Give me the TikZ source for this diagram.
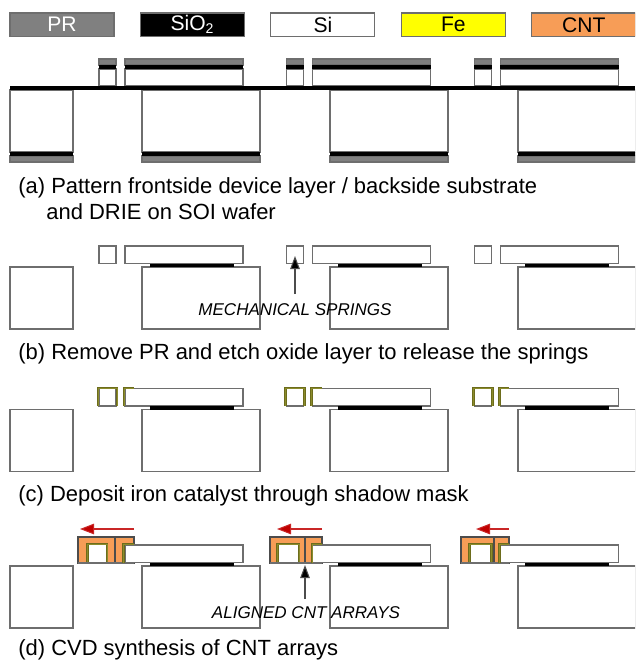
\documentclass[tikz,border=0pt]{standalone}
\usepackage{xcolor}
\usepackage{fontspec}
\setmainfont{Liberation Sans}
\usetikzlibrary{arrows.meta,positioning}
\definecolor{edge}{HTML}{6E6E6E}
\definecolor{resist}{HTML}{808080}
\definecolor{iron}{HTML}{FFFF00}
\definecolor{olive}{HTML}{6C6C1C}
\definecolor{pale}{HTML}{8C8C2C}
\definecolor{cnt}{HTML}{F79D57}
\definecolor{tube}{HTML}{C00000}

\begin{document}
\begin{tikzpicture}[
  x=0.02cm,
  y=-0.02cm,
  node distance=0.53cm,
  legend/.style={
    rectangle,
    draw=edge,
    line width=0.6pt,
    outer sep=0pt,
    align=center,
    font=\fontsize{12}{14}\selectfont,
    minimum width=2.08cm,
    minimum height=0.47cm,
    inner sep=0pt
  },
  si/.style={draw=edge, fill=white, line width=0.6pt},
  pr/.style={draw=edge, fill=resist, line width=0.6pt},
  oxide/.style={fill=black},
  fe/.style={draw=olive, double=pale, double distance=0.5pt, line width=0.6pt},
  tubes/.style={draw=black!70, fill=cnt, line width=0.6pt},
  caption/.style={anchor=west, inner sep=0pt, font=\fontsize{12.5}{14}\selectfont},
  note/.style={inner sep=0pt, font=\fontsize{9.7}{11}\selectfont\itshape},
  pointer/.style={-{Triangle[length=7.5pt,width=5.5pt,fill=black]}, draw=black!70, line width=0.6pt},
  pull/.style={-{Triangle[length=8pt,width=6pt,fill=tube]}, draw=tube!85, line width=0.6pt}
]
\useasboundingbox (0,0) rectangle (635,662);
\clip (0,0) rectangle (635,662);

% legend
\node[legend, fill=resist, text=white, anchor=north west] (prkey) at (10,13) {PR};
\node[legend, fill=black, text=white, right=of prkey] (oxkey) {SiO\textsubscript{2}};
\node[legend, fill=white, right=of oxkey] (sikey) {Si};
\node[legend, fill=iron, right=of sikey] (fekey) {Fe};
\node[legend, fill=cnt, right=of fekey] (cntkey) {CNT};

% step a
\foreach \x in {0,187.7,375.4} {
  \draw[si] (\x+99,69) rectangle (\x+116,86);
  \draw[pr] (\x+99,59) rectangle (\x+116,65);
  \fill[oxide] (\x+98.7,65) rectangle (\x+116.3,69.3);
  \draw[si] (\x+125,69) rectangle (\x+243,86);
  \draw[pr] (\x+125,59) rectangle (\x+243,65);
  \fill[oxide] (\x+124.7,65) rectangle (\x+243.3,69.3);
}
\foreach \x/\w in {10/63,142/118,330/118,518/118} {
  \draw[si] (\x,90) rectangle (\x+\w,152);
  \draw[pr] (\x,156) rectangle (\x+\w,162);
  \fill[oxide] (\x-0.3,151.7) rectangle (\x+\w+0.3,156);
}
\fill[oxide] (10,86) rectangle (635,90);
\node[caption] (capa) at (18,188) {(a) Pattern frontside device layer / backside substrate};
\node[caption] (capa2) at (46,212) {and DRIE on SOI wafer};

% steps b, c and d share the same wafer
\foreach \yy in {246,388.5,545} {
  \foreach \x/\w in {10/63,142/118,330/118,518/118} {
    \draw[si] (\x,\yy+21) rectangle (\x+\w,\yy+83);
  }
}

% cnt arrays of step d, under the beams
\foreach \l/\m/\r/\sl/\sr in {78/115/134/87.5/107,270/305/322/277.5/299,461/494/509/469.5/491} {
  \draw[tubes] (\l,537) rectangle (\r,563);
  \draw[draw=black!70, line width=0.6pt] (\m,537) -- (\m,563);
  \fill[white] (\sl,544) rectangle (\sr,563);
  \draw[fe] (\sl,563) -- (\sl,544) -- (\sr,544) -- (\sr,563);
}

\foreach \yy in {246,388.5,545} {
  \foreach \x in {0,187.7,375.4} {
    \draw[si] (\x+125,\yy) rectangle (\x+243,\yy+17.5);
    \fill[oxide] (\x+150,\yy+17.5) rectangle (\x+234,\yy+21);
  }
}
\foreach \x in {0,187.7,375.4} {
  \draw[si] (\x+99,246) rectangle (\x+116,263.5);
  \draw[si] (\x+99,388.5) rectangle (\x+116,406);
  \draw[fe] (\x+98,406) -- (\x+98,388) -- (\x+117,388) -- (\x+117,406);
  \draw[fe] (\x+134,388) -- (\x+124,388) -- (\x+124,406);
}
\draw[edge, line width=0.6pt] (78,563) -- (134,563) (270,563) -- (322,563) (461,563) -- (509,563);
\foreach \b/\e in {123.5/134,312/322,499.5/509} {
  \draw[fe] (\e,544) -- (\b,544) -- (\b,563);
}

\node[caption] (capb) at (18,354) {(b) Remove PR and etch oxide layer to release the springs};
\node[caption] (capc) at (18,496) {(c) Deposit iron catalyst through shadow mask};
\node[caption] (capd) at (18,650) {(d) CVD synthesis of CNT arrays};

% labels and arrows
\node[note] (springs) at (295,310) {MECHANICAL SPRINGS};
\node[note] (arrays) at (306,613) {ALIGNED CNT ARRAYS};
\coordinate (springfoot) at (295,294);
\coordinate (springtip) at (295,256);
\coordinate (arrayfoot) at (305,599);
\coordinate (arraytip) at (305,565);
\draw[pointer] (springfoot) -- (springtip);
\draw[pointer] (arrayfoot) -- (arraytip);

\coordinate (pulla) at (134,529);
\coordinate (pullb) at (80,529);
\coordinate (pullc) at (322,529);
\coordinate (pulld) at (277,529);
\coordinate (pulle) at (509,529);
\coordinate (pullf) at (476,529);
\draw[pull] (pulla) -- (pullb);
\draw[pull] (pullc) -- (pulld);
\draw[pull] (pulle) -- (pullf);
\end{tikzpicture}
\end{document}
